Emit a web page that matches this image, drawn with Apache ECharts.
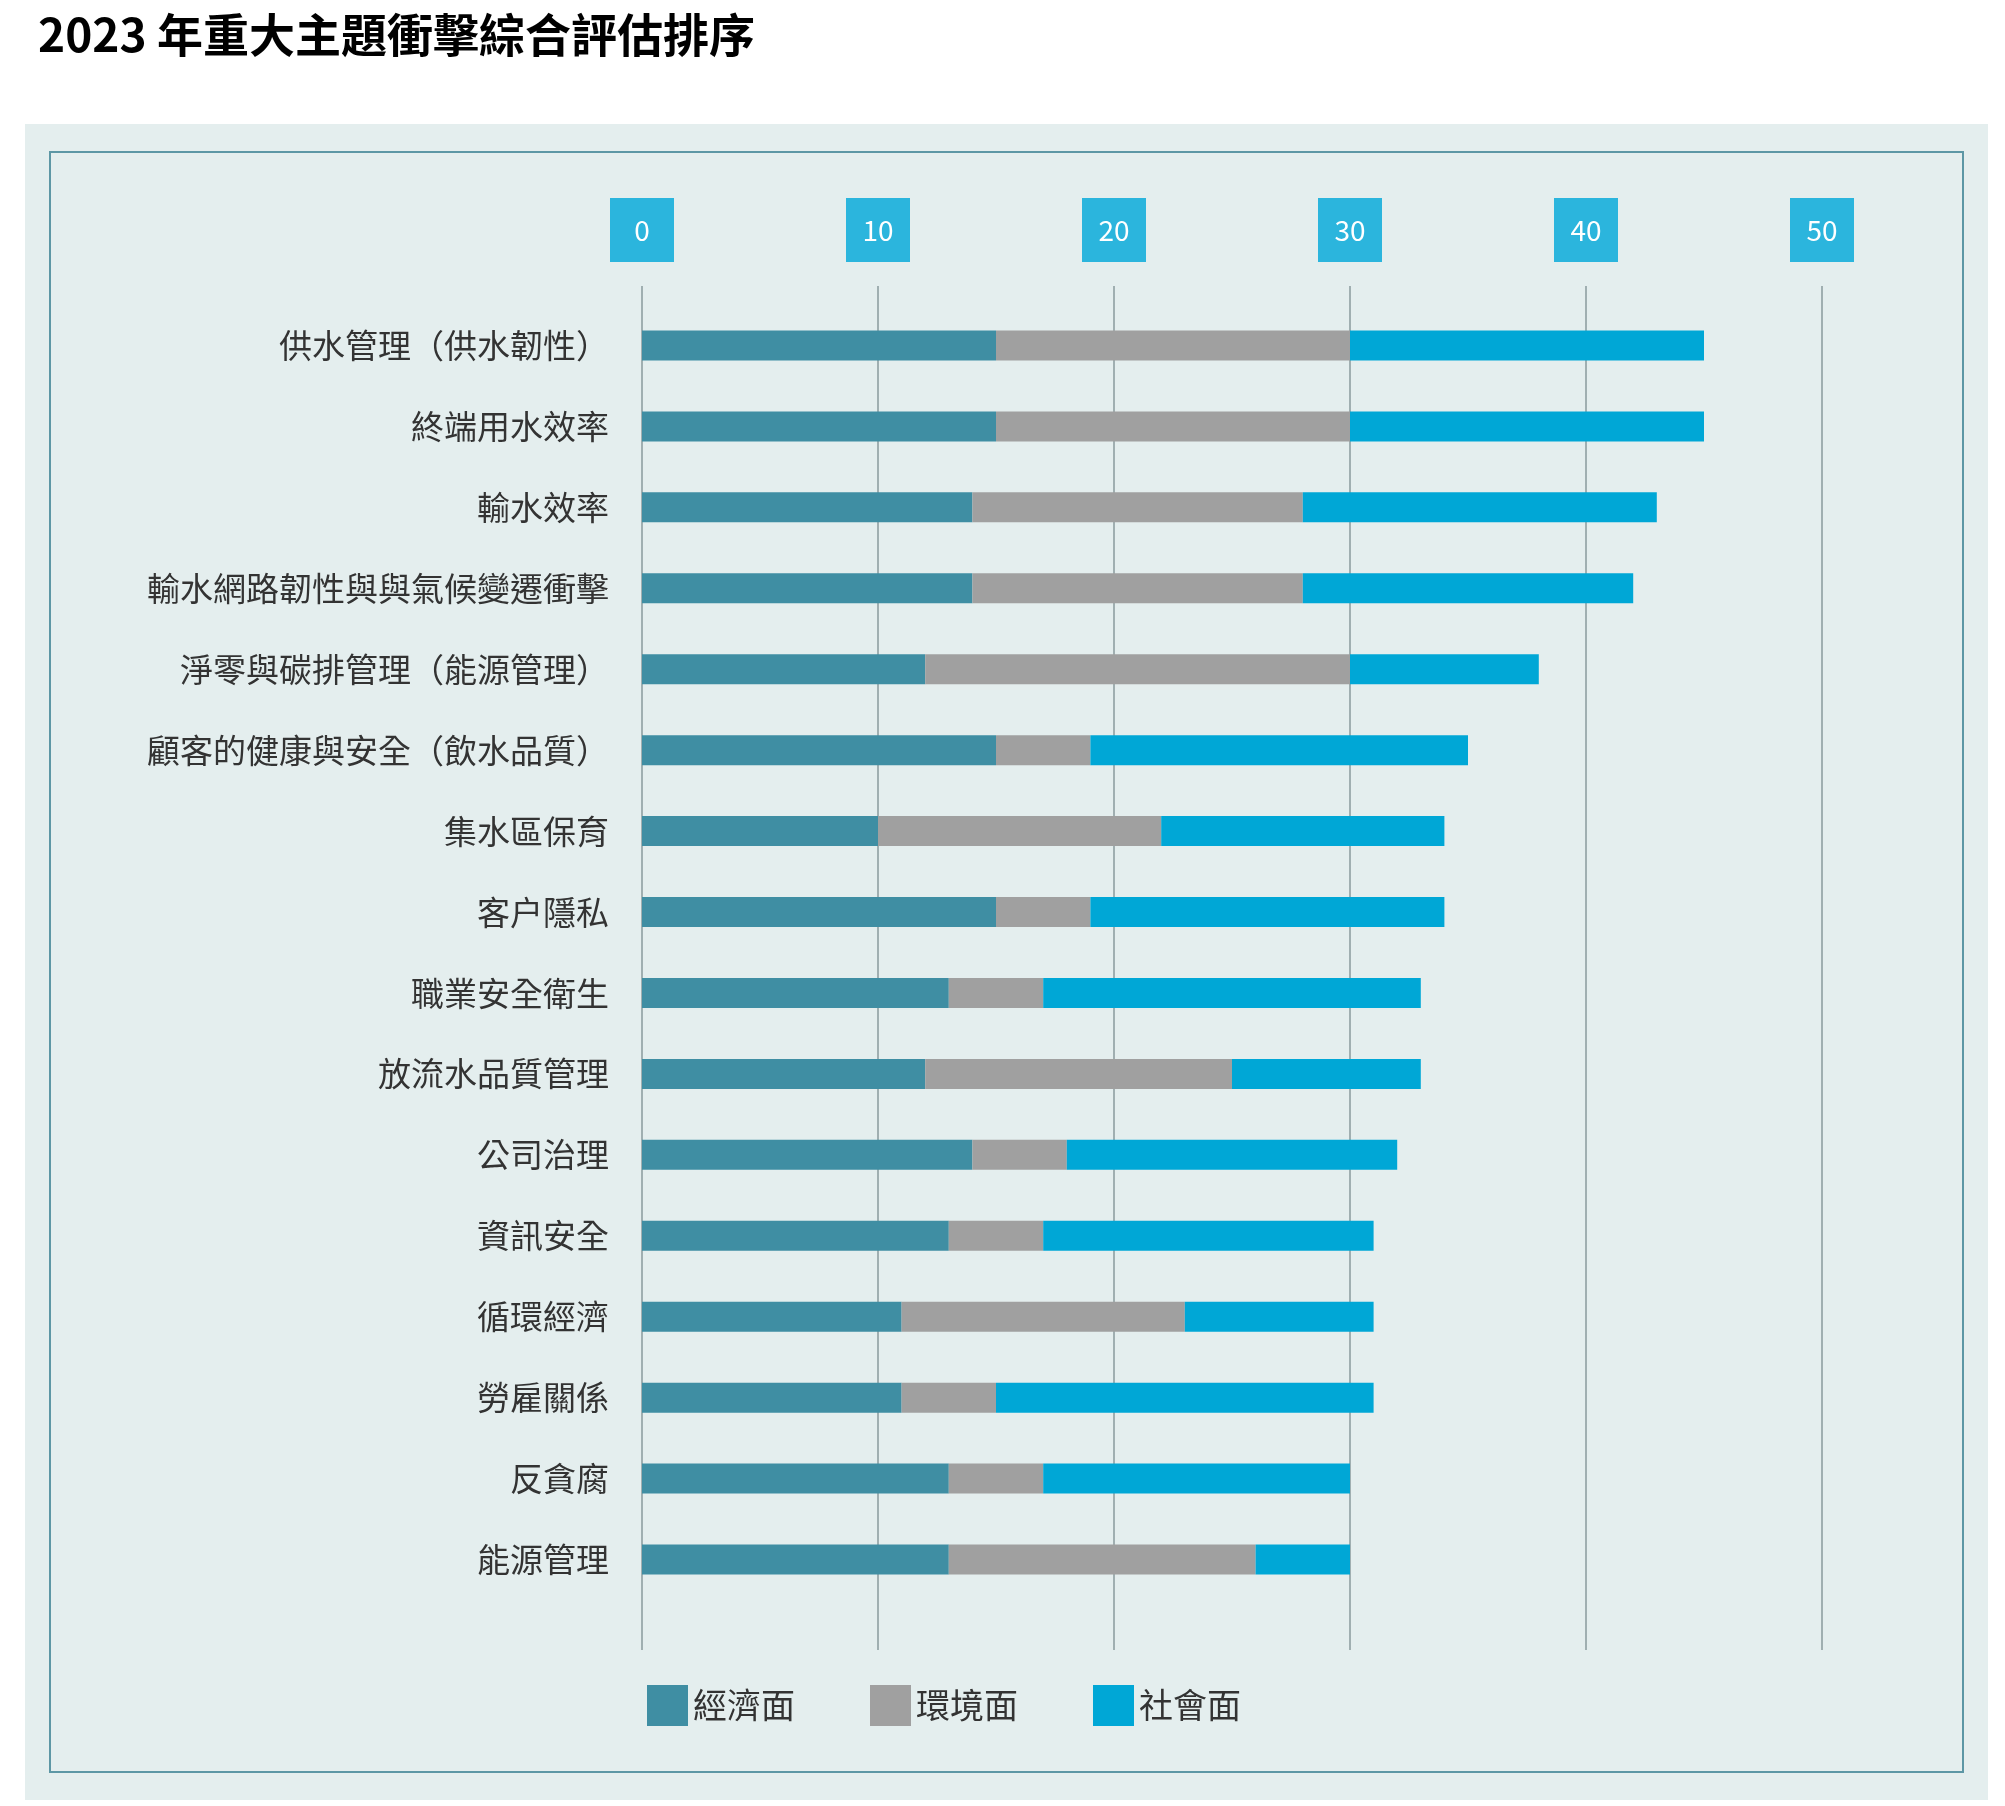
<!DOCTYPE html>
<html><head><meta charset="utf-8">
<script src="https://cdn.jsdelivr.net/npm/echarts@6/dist/echarts.min.js"></script>
<style>html,body{margin:0;padding:0;background:#fff}#main{width:2005px;height:1806px}</style>
</head><body><div id="main"></div>
<script>
var chartDom = document.getElementById('main');
var myChart = echarts.init(chartDom);

// 議題（由上而下）
const topics = ['供水管理（供水韌性）', '終端用水效率', '輸水效率', '輸水網路韌性與與氣候變遷衝擊',
  '淨零與碳排管理（能源管理）', '顧客的健康與安全（飲水品質）', '集水區保育', '客户隱私',
  '職業安全衛生', '放流水品質管理', '公司治理', '資訊安全', '循環經濟', '勞雇關係', '反貪腐', '能源管理'];
const economic = [15, 15, 14, 14, 12, 15, 10, 15, 13, 12, 14, 13, 11, 11, 13, 13];
const environment = [15, 15, 14, 14, 18, 4, 12, 4, 4, 13, 4, 4, 12, 4, 4, 13];
const social = [15, 15, 15, 14, 8, 16, 12, 15, 16, 8, 14, 14, 8, 16, 13, 4];
const ticks = [0, 10, 20, 30, 40, 50];

const font = '"Noto Sans CJK TC", "Noto Sans", sans-serif';
const colors = ['#3f8ea3', '#a0a0a0', '#00a7d6'];
const names = ['經濟面', '環境面', '社會面'];

var option = {
  animation: false,
  graphic: [
    { type: 'rect', shape: { x: 25, y: 124, width: 1963, height: 1676 }, style: { fill: '#e4eeee' }, z: -10 },
    { type: 'rect', shape: { x: 50, y: 152, width: 1913, height: 1620 }, style: { fill: 'none', stroke: '#5d97a5', lineWidth: 2 }, z: -9 },
    { type: 'text', left: 38, top: 12, style: { text: '2023 年重大主題衝擊綜合評估排序', font: 'bold 46px ' + font, fill: '#000' } }
  ],
  legend: {
    left: 642, top: 1680, itemWidth: 41, itemHeight: 41, itemGap: 75,
    textStyle: { fontSize: 34, color: '#333', fontFamily: font },
    data: names.map(n => ({ name: n, icon: 'rect' }))
  },
  grid: [
    { left: 642, right: 2005 - 1822, top: 305, bottom: 1806 - 1600 },
    { left: 642, right: 2005 - 1822, top: 286, bottom: 1806 - 1650 }
  ],
  xAxis: [
    { gridIndex: 0, type: 'value', min: 0, max: 50, interval: 10, show: false },
    {
      gridIndex: 1, type: 'value', min: 0, max: 50, interval: 10, position: 'top',
      axisLine: { show: false }, axisTick: { show: false },
      splitLine: { lineStyle: { color: '#8a9a9c', width: 1.5 } },
      axisLabel: {
        margin: 24, color: '#fff', fontSize: 28, fontFamily: font,
        backgroundColor: '#2bb5dd', width: 64, height: 64, lineHeight: 64, align: 'center',
        formatter: v => ticks.includes(v) ? String(v) : ''
      }
    }
  ],
  yAxis: [
    {
      gridIndex: 0, type: 'category', inverse: true, data: topics,
      axisLine: { show: false }, axisTick: { show: false },
      axisLabel: { margin: 33, fontSize: 33, color: '#333', fontFamily: font }
    },
    { gridIndex: 1, type: 'category', data: [''], show: false }
  ],
  series: [economic, environment, social].map((d, i) => ({
    name: names[i], type: 'bar', stack: 'total', data: d, barWidth: 30,
    xAxisIndex: 0, yAxisIndex: 0, itemStyle: { color: colors[i] }, z: 5
  }))
};
myChart.setOption(option);
</script></body></html>
